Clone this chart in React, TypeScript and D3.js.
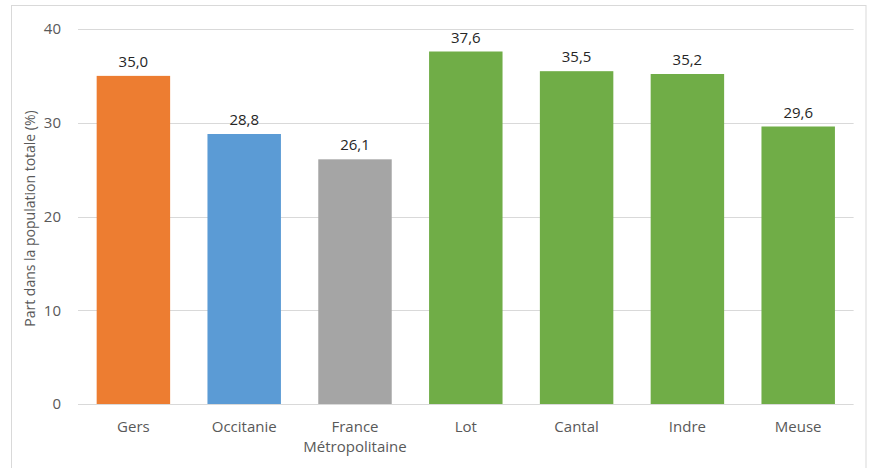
import React from "react";
import * as d3 from "d3";

const categories: string[] = ["Gers", "Occitanie", "France\nMétropolitaine", "Lot", "Cantal", "Indre", "Meuse"];
const values: number[] = [35.0, 28.8, 26.1, 37.6, 35.5, 35.2, 29.6];
const barColors: string[] = ["#ED7D31", "#5B9BD5", "#A5A5A5", "#70AD47", "#70AD47", "#70AD47", "#70AD47"];
const yTicks: number[] = [0, 10, 20, 30, 40];
const yTitle = "Part dans la population totale (%)";

const W = 870;
const H = 468;
const FONT = "'Open Sans', 'Noto Sans', sans-serif";

export default function App() {
  const x = d3.scaleBand<number>()
    .domain(categories.map((_, i) => i))
    .range([78, 853.6])
    .paddingInner(0.337)
    .paddingOuter(0.1685);
  const y = d3.scaleLinear().domain([0, 40]).range([404, 29]);
  const fmt = (v: number) => v.toFixed(1).replace(".", ",");

  return (
    <svg width={W} height={H} style={{ position: "absolute", left: 0, top: 0, background: "#fff" }} fontFamily={FONT}>
      <rect x={11.5} y={5.5} width={854.5} height={470} fill="#fff" stroke="#d9d9d9" strokeWidth={1} />
      {yTicks.map((t) => (
        <g key={t}>
          <line x1={78} x2={853.6} y1={Math.round(y(t)) + 0.5} y2={Math.round(y(t)) + 0.5} stroke="#d9d9d9" strokeWidth={1} />
          <text x={61} y={y(t)} dy="0.35em" textAnchor="end" fontSize={15} fill="#595959">{t}</text>
        </g>
      ))}
      {values.map((v, i) => (
        <g key={i}>
          <rect x={x(i)!} y={y(v)} width={x.bandwidth()} height={y(0) - y(v)} fill={barColors[i]} />
          <text x={x(i)! + x.bandwidth() / 2} y={y(v) - 9} textAnchor="middle" fontSize={15} fill="#262626">{fmt(v)}</text>
        </g>
      ))}
      {categories.map((c, i) => (
        <text key={c} x={x(i)! + x.bandwidth() / 2} y={432} textAnchor="middle" fontSize={15} fill="#595959">
          {c.split("\n").map((line, j) => (
            <tspan key={j} x={x(i)! + x.bandwidth() / 2} dy={j === 0 ? 0 : 20}>{line}</tspan>
          ))}
        </text>
      ))}
      <text transform={`translate(35,${(y(0) + y(40)) / 2 + 2}) rotate(-90)`} textAnchor="middle" fontSize={14} fill="#595959">{yTitle}</text>
    </svg>
  );
}
